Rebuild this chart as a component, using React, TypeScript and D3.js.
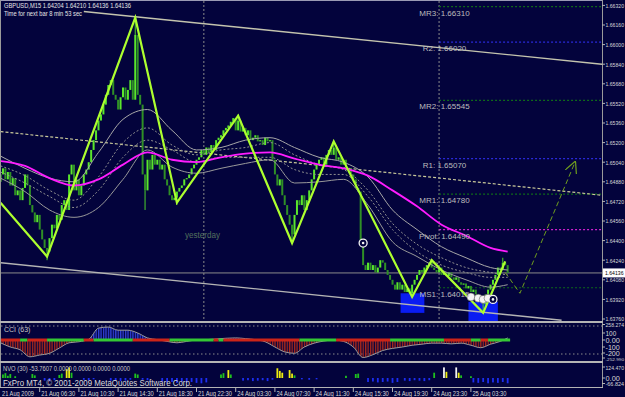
import React from 'react';
import * as d3 from 'd3';

// ---------- DATA ----------
const firstOpen = 1.6488;
const closes = [
  1.6494, 1.6499, 1.649, 1.6496, 1.6485, 1.6491, 1.6477, 1.6481, 1.6473, 1.6483, 1.6494, 1.6485,
  1.6469, 1.6463, 1.6455, 1.6461, 1.6449, 1.6441, 1.6434, 1.6431, 1.6442, 1.6453, 1.645, 1.6461,
  1.6457, 1.6469, 1.6473, 1.6465, 1.6494, 1.6502, 1.6481, 1.649, 1.6477, 1.6485, 1.6494, 1.6498,
  1.6504, 1.6514, 1.6522, 1.653, 1.6538, 1.6543, 1.6551, 1.6559, 1.6567, 1.6571, 1.6559, 1.6555,
  1.6547, 1.6557, 1.6565, 1.6555, 1.6563, 1.6571, 1.6555, 1.6608, 1.6559, 1.6551, 1.6494, 1.6481,
  1.6506, 1.6498,
  1.651, 1.6502, 1.6506, 1.6498, 1.6502, 1.649, 1.6485, 1.6477, 1.6473, 1.6475, 1.648, 1.6483,
  1.6485, 1.649, 1.6491, 1.6494, 1.6499, 1.6502, 1.6506, 1.6508, 1.6514, 1.651, 1.6516, 1.6512,
  1.6518, 1.6514, 1.6522, 1.6524, 1.6526, 1.653, 1.6532, 1.6534, 1.6537, 1.654, 1.653, 1.6538,
  1.6529, 1.6532, 1.6526, 1.653, 1.6522, 1.6524, 1.6526, 1.6521, 1.6522, 1.6518, 1.6524, 1.6521,
  1.6522, 1.6506, 1.6494, 1.6485, 1.649, 1.6477, 1.6469, 1.6461, 1.6453, 1.6445, 1.6461, 1.6473,
  1.6469, 1.6477, 1.6465, 1.6473, 1.6481, 1.649, 1.6498, 1.6502, 1.6506, 1.6508, 1.6502, 1.651,
  1.6514, 1.651, 1.6516, 1.6506, 1.6508, 1.6502, 1.6506, 1.6498, 1.6499, 1.6494, 1.649, 1.6483,
  1.648, 1.6437, 1.642, 1.6416, 1.6422, 1.6416, 1.642, 1.6414, 1.6418, 1.6424, 1.6422, 1.6416,
  1.6412, 1.6408, 1.6404, 1.64, 1.6406, 1.64, 1.6404, 1.6398, 1.6401, 1.6397, 1.6404, 1.6408,
  1.6412, 1.6416, 1.6414, 1.6418, 1.642, 1.6422, 1.6418, 1.6416, 1.6414, 1.6418, 1.6412, 1.6414,
  1.6411, 1.6414, 1.641, 1.6408, 1.641, 1.6406, 1.6404, 1.6405, 1.6401, 1.6403, 1.6398, 1.64,
  1.6396, 1.6393, 1.6392, 1.6388, 1.6396, 1.64, 1.6404, 1.6408, 1.6412, 1.6418, 1.6416, 1.6422,
  1.642, 1.64136,
];
const wickIdx = [19, 55, 59, 72, 97, 119, 136, 168, 176, 197, 205];
const wickPrice = [1.6424, 1.6622, 1.6465, 1.6469, 1.6543, 1.6438, 1.6521, 1.6394, 1.6425, 1.6381, 1.6426];

const zzIdx = [0, 19, 55, 72, 97, 119, 136, 168, 176, 197, 206];
const zzPrice = [1.6471, 1.6427, 1.6622, 1.6471, 1.6542, 1.6438, 1.6521, 1.6394, 1.6424, 1.6381, 1.6423];

const maIdx = [0, 10, 20, 30, 40, 50, 60, 70, 80, 90, 100, 110, 120, 130, 140, 150, 160, 170, 180, 190, 200, 207];
const maMagenta = [1.6505, 1.6501, 1.6491, 1.6485, 1.649, 1.6502, 1.6512, 1.6506, 1.6504, 1.6508, 1.6511, 1.6512, 1.6507, 1.6502, 1.6499, 1.6493, 1.6481, 1.6468, 1.6453, 1.6444, 1.6434, 1.6431];
const bandUpper = [1.6509, 1.6499, 1.6491, 1.6488, 1.6512, 1.6539, 1.6547, 1.653, 1.6514, 1.6516, 1.6522, 1.6524, 1.6516, 1.6508, 1.6504, 1.6492, 1.6465, 1.6449, 1.6435, 1.6426, 1.6418, 1.6416];
const bandUpperDash = [1.6501, 1.6493, 1.6481, 1.6473, 1.6492, 1.652, 1.6532, 1.6518, 1.651, 1.6514, 1.6516, 1.652, 1.651, 1.6502, 1.6498, 1.6481, 1.6454, 1.6437, 1.6426, 1.6418, 1.6414, 1.6412];
const bandLowerDash = [1.6496, 1.6487, 1.6476, 1.6467, 1.6481, 1.6508, 1.6522, 1.6514, 1.6504, 1.6508, 1.6508, 1.6508, 1.6498, 1.6494, 1.6494, 1.6476, 1.6449, 1.6431, 1.642, 1.6414, 1.641, 1.641];
const bandLower = [1.6491, 1.648, 1.6465, 1.6459, 1.6467, 1.649, 1.6514, 1.65, 1.6495, 1.6499, 1.6503, 1.6506, 1.6487, 1.6488, 1.649, 1.6469, 1.6439, 1.6427, 1.6416, 1.6408, 1.6402, 1.6404];

const pivotNames = ['MR3', 'R2', 'MR2', 'R1', 'MR1', 'Pivot', 'MS1'];
const pivotValues = [1.6631, 1.6602, 1.65545, 1.6507, 1.6478, 1.6449, 1.64015];
const pivotColors = ['#0f6a1a', '#2a2ad8', '#0f6a1a', '#2a2ad8', '#0f6a1a', '#d020d0', '#0f6a1a'];

const trendTop = [[34, 1.6627], [245.5, 1.6584]];
const trendMid = [[0, 1.6529], [245.5, 1.6477]];
const trendBottom = [[0, 1.6422], [229, 1.6375]];
const projection = [[206, 1.6414], [212, 1.6397], [234.5, 1.6504]];
const boxes = [[163.3, 173, 1.6397, 1.6381], [191, 203, 1.639, 1.6374]];
const ringMarks = [[148, 1.6438], [201, 1.6392]];
const dotMarks = [[192, 1.6394], [195, 1.6393], [197, 1.6392], [199, 1.6393]];
const daySeparators = [83, 179];
const bidPrice = 1.64136;

const priceTicks = ['1.66320', '1.66160', '1.66000', '1.65840', '1.65680', '1.65520', '1.65360', '1.65200', '1.65040', '1.64880', '1.64720', '1.64560', '1.64400', '1.64240', '1.64080', '1.63920', '1.63760'];

const timeIdx = [0, 16, 32, 48, 64, 80, 96, 112, 128, 144, 160, 176, 192];
const timeLabels = ['21 Aug 2009', '21 Aug 06:30', '21 Aug 10:30', '21 Aug 14:30', '21 Aug 18:30', '21 Aug 22:30', '24 Aug 03:30', '24 Aug 07:30', '24 Aug 11:30', '24 Aug 15:30', '24 Aug 19:30', '24 Aug 23:30', '25 Aug 03:30'];

const cciIdx = [0, 4, 8, 12, 16, 20, 24, 28, 32, 36, 40, 44, 48, 52, 56, 60, 64, 68, 72, 76, 80, 84, 88, 92, 96, 100, 104, 108, 112, 116, 120, 124, 128, 132, 136, 140, 144, 148, 152, 156, 160, 164, 168, 172, 176, 180, 184, 188, 192, 196, 200, 204, 207];
const cciVals = [-40, -100, -140, -240, -215, -190, -115, -40, -25, 10, 170, 185, 140, 140, 100, 30, 5, -20, -40, -20, 0, 5, 15, 25, 30, 20, 5, -25, -100, -170, -190, -100, -45, -15, 0, -20, -100, -250, -210, -150, -120, -100, -75, -60, -45, -45, -55, -45, -75, -110, -60, -20, 30];
const cciBand = [[0, 8, 'r'], [8, 11, 'g'], [11, 19, 'r'], [19, 34, 'g'], [34, 38, 'r'], [38, 54, 'g'], [54, 69, 'r'], [69, 87, 'g'], [87, 89, 'r'], [89, 91, 'g'], [91, 122, 'r'], [122, 137, 'g'], [137, 159, 'r'], [159, 181, 'g'], [181, 192, 'r'], [192, 196, 'g'], [196, 199, 'r'], [199, 208, 'g']];
const cciAxis = [['258.274', 327], ['100', 335.5], ['0.00', 342.5], ['-100', 349.5], ['-200', 355.5], ['-252.990', 360.5]];

const nvoIdx = [1, 2, 3, 4, 6, 13, 14, 24, 25, 27, 28, 29, 55, 56, 90, 91, 93, 94, 113, 114, 115, 118, 119, 120, 141, 145, 146, 177, 181, 182, 186, 187, 188, 192,
  18, 20, 22, 34, 36, 38, 45, 47, 49, 51, 53, 58, 60, 66, 68, 70, 72, 74, 76, 78, 80, 82, 84, 99, 101, 103, 105, 107, 109, 111, 123, 126, 129, 150, 152, 154, 156, 158, 160, 162, 165, 167, 169, 171, 173, 175, 193, 195, 197, 199, 201, 203, 205, 207];
const nvoVal = [40, 55, 25, 45, 20, 45, 30, 35, 50, 100, 120, 60, 50, 40, 40, 55, 90, 40, 110, 80, 60, 90, 50, 30, 25, 45, 50, 60, 120, 70, 120, 60, 30, 20,
  -30, -35, -25, -20, -25, -15, -30, -25, -35, -30, -20, -20, -25, -40, -50, -45, -55, -40, -50, -45, -55, -60, -50, -30, -25, -35, -30, -25, -35, -20, -15, -20, -15, -45, -40, -50, -45, -40, -55, -45, -30, -35, -25, -30, -35, -25, -50, -55, -45, -60, -50, -55, -45, -60];
const nvoCol = ['g', 'g', 'g', 'g', 'g', 'g', 'g', 'g', 'g', 'y', 'y', 'g', 'g', 'g', 'g', 'g', 'y', 'g', 'y', 'y', 'y', 'y', 'y', 'g', 'g', 'g', 'g', 'g', 'w', 'y', 'w', 'y', 'g', 'g'];
const nvoAxis = [['124.470', 369.5], ['0.00', 380.5], ['-66.824', 386]];

// ---------- STYLE ----------
const BG = '#03033c';
const FONT = 'Liberation Sans, Arial, sans-serif';
const NVO_COLORS = { g: '#1fc21f', y: '#ecec10', w: '#f2f2f2', b: '#1c2ef0' };

export default function App() {
  const x = d3.scaleLinear().domain([0, 245.5]).range([0.5, 602]);
  const y = d3.scaleLinear().domain([1.6376, 1.6632]).range([319, 5.4]);
  const yc = d3.scaleLinear().domain([-100, 100]).range([347, 333]);
  const yn = d3.scaleLinear().domain([0, 124.47]).range([378, 367]);

  const maLine = (vals) =>
    d3.line().x((_, k) => x(maIdx[k])).y((v) => y(v)).curve(d3.curveMonotoneX)(vals);
  const ptLine = (pts, curve = d3.curveLinear) =>
    d3.line().x((p) => x(p[0])).y((p) => y(p[1])).curve(curve)(pts);

  const zz = d3.line().x((_, k) => x(zzIdx[k])).y((v) => y(v))(zzPrice);

  const cciPos = d3.area().x((_, k) => x(cciIdx[k])).y0(yc(0)).y1((v) => yc(Math.max(0, v))).curve(d3.curveMonotoneX)(cciVals);
  const cciNeg = d3.area().x((_, k) => x(cciIdx[k])).y0(yc(0)).y1((v) => yc(Math.min(0, v))).curve(d3.curveMonotoneX)(cciVals);
  const cciLine = d3.line().x((_, k) => x(cciIdx[k])).y((v) => yc(v)).curve(d3.curveMonotoneX)(cciVals);

  const bars = closes.map((c, i) => {
    const o = i === 0 ? firstOpen : closes[i - 1];
    return { i, o, c };
  });

  // right-axis labels must stay inside the 625px frame
  const axisFont = (s) => Math.min(6.4, 18.5 / (s.length * 0.56));
  const axisLen = (s) => Math.min(18.5, s.length * 0.56 * axisFont(s));

  return (
    <svg width={625} height={397} style={{ position: 'absolute', left: 0, top: 0, background: BG }} fontFamily={FONT}>
      <defs>
        <clipPath id="mainClip"><rect x={1} y={1} width={601} height={320} /></clipPath>
        <clipPath id="cciClip"><rect x={1} y={323} width={601} height={38} /></clipPath>
        <pattern id="negStripe" width={2.45} height={4} patternUnits="userSpaceOnUse">
          <rect width={1.3} height={4} fill="#a8281c" />
        </pattern>
        <pattern id="posStripe" width={2.45} height={4} patternUnits="userSpaceOnUse">
          <rect width={1.3} height={4} fill="#3040d8" />
        </pattern>
        <marker id="arr" viewBox="0 0 10 10" refX={9} refY={5} markerWidth={12} markerHeight={12} orient="auto" markerUnits="userSpaceOnUse">
          <path d="M0,0 L10,5 L0,10" fill="none" stroke="#6f9e1e" strokeWidth={1} />
        </marker>
      </defs>
      <rect width={625} height={397} fill={BG} />

      {/* ---------- MAIN PANEL ---------- */}
      <g clipPath="url(#mainClip)">
        {boxes.map((b, k) => (
          <rect key={k} x={x(b[0])} y={y(b[2])} width={x(b[1]) - x(b[0])} height={y(b[3]) - y(b[2])} fill="#0a1cf2" />
        ))}
        {daySeparators.map((d, k) => (
          <line key={k} x1={x(d)} x2={x(d)} y1={1} y2={321} stroke="#8a8a8a" strokeDasharray="2,2" />
        ))}
        {pivotValues.map((v, k) => (
          <line key={k} x1={x(179)} x2={602} y1={y(v)} y2={y(v)} stroke={pivotColors[k]} strokeDasharray="2,2" strokeWidth={1.2} />
        ))}
        <line x1={0} x2={602} y1={y(bidPrice)} y2={y(bidPrice)} stroke="#8c8c8c" strokeWidth={1} />
        <path d={ptLine(trendTop)} stroke="#c4c4ae" strokeWidth={1.4} fill="none" />
        <path d={ptLine(trendMid)} stroke="#c8c89a" strokeWidth={1.2} strokeDasharray="3,2" fill="none" />
        <path d={ptLine(trendBottom)} stroke="#b4b4b4" strokeWidth={1.4} fill="none" />

        {/* candles */}
        {bars.map((b) => {
          const top = y(Math.max(b.o, b.c));
          const bot = y(Math.min(b.o, b.c));
          return (
            <rect key={b.i} x={x(b.i) - 1} y={top} width={2} height={Math.max(1, bot - top)}
              fill={b.c >= b.o ? '#5ae62c' : '#2f8f26'} />
          );
        })}
        {wickIdx.map((i, k) => {
          const b = bars[i];
          const p = wickPrice[k];
          const end = p > Math.max(b.o, b.c) ? Math.max(b.o, b.c) : Math.min(b.o, b.c);
          return <line key={k} x1={x(i)} x2={x(i)} y1={y(p)} y2={y(end)} stroke="#4cd22a" strokeWidth={1} />;
        })}

        {/* moving averages */}
        <path d={maLine(bandUpper)} stroke="#a8a8a8" strokeWidth={1} fill="none" />
        <path d={maLine(bandUpperDash)} stroke="#909090" strokeWidth={1} strokeDasharray="2,2" fill="none" />
        <path d={maLine(bandLowerDash)} stroke="#909090" strokeWidth={1} strokeDasharray="2,2" fill="none" />
        <path d={maLine(bandLower)} stroke="#9a9a9a" strokeWidth={1} fill="none" />
        <path d={maLine(maMagenta)} stroke="#ff1cff" strokeWidth={1.8} fill="none" />

        {/* zigzag */}
        <path d={zz} stroke="#adff2f" strokeWidth={2.2} fill="none" strokeLinejoin="miter" />

        {/* projection */}
        <path d={ptLine(projection)} stroke="#6f9e1e" strokeWidth={1} strokeDasharray="5,3" fill="none" markerEnd="url(#arr)" />

        {dotMarks.map((m, k) => (
          <circle key={k} cx={x(m[0])} cy={y(m[1])} r={4} fill="#f4f4f4" stroke="#444" strokeWidth={0.5} />
        ))}
        {ringMarks.map((m, k) => (
          <g key={k}>
            <circle cx={x(m[0])} cy={y(m[1])} r={4} fill={BG} stroke="#f4f4f4" strokeWidth={1.3} />
            <circle cx={x(m[0])} cy={y(m[1])} r={1.3} fill="#f4f4f4" />
          </g>
        ))}

        {pivotNames.map((n, k) => (
          <text key={k} x={444.5} y={y(pivotValues[k]) + 9} fontSize={8} fill="#bdbdbd" textAnchor="middle">
            {`${n}: ${pivotValues[k].toFixed(5)}`}
          </text>
        ))}
        <text x={185} y={238} fontSize={8.5} fill="#54705c" textLength={35} lengthAdjust="spacingAndGlyphs">yesterday</text>
      </g>
      <text x={4} y={8} fontSize={7} fill="#e6e6e6" textLength={127} lengthAdjust="spacingAndGlyphs">GBPUSD,M15  1.64204 1.64210 1.64136 1.64136</text>
      <text x={4} y={16} fontSize={7} fill="#e6e6e6" textLength={78} lengthAdjust="spacingAndGlyphs">Time for next bar 8 min 53 sec</text>

      {/* ---------- CCI PANEL ---------- */}
      <g clipPath="url(#cciClip)">
        <line x1={1} x2={602} y1={yc(200)} y2={yc(200)} stroke="#8a8a8a" strokeDasharray="1.5,2.5" />
        <line x1={1} x2={602} y1={yc(-200)} y2={yc(-200)} stroke="#8a8a8a" strokeDasharray="1.5,2.5" />
        <path d={cciPos} fill="url(#posStripe)" />
        <path d={cciNeg} fill="url(#negStripe)" />
        <path d={cciLine} stroke="#9a9a9a" strokeWidth={1} fill="none" />
        {cciBand.map((s, k) => (
          <rect key={k} x={x(s[0])} y={yc(0) - 1.5} width={x(s[1]) - x(s[0])} height={3} fill={s[2] === 'r' ? '#cc2418' : '#34c834'} />
        ))}
      </g>
      <text x={4} y={332} fontSize={7} fill="#c8c8c8">CCI (63)</text>

      {/* ---------- NVO PANEL ---------- */}
      {nvoIdx.map((i, k) => {
        const v = nvoVal[k];
        const col = v < 0 ? NVO_COLORS.b : NVO_COLORS[nvoCol[k]];
        const y0 = yn(0), y1 = yn(v);
        return <rect key={k} x={x(i) - 0.9} y={Math.min(y0, y1)} width={1.8} height={Math.abs(y1 - y0)} fill={col} />;
      })}
      <text x={3} y={371} fontSize={7} fill="#c8c8c8" textLength={127} lengthAdjust="spacingAndGlyphs">NVO (30) -53.7607 0.0000 0.0000 0.0000 0.0000</text>
      <text x={3} y={386} fontSize={8.2} fill="#dcdcdc" textLength={189} lengthAdjust="spacingAndGlyphs">FxPro MT4, © 2001-2009 MetaQuotes Software Corp.</text>

      {/* ---------- FRAMES ---------- */}
      <line x1={0} x2={603} y1={0.5} y2={0.5} stroke="#9a9ab4" />
      <line x1={0.5} x2={0.5} y1={0} y2={387} stroke="#9a9a9a" />
      <line x1={602.5} x2={602.5} y1={0} y2={388} stroke="#9a9a9a" />
      <rect x={0} y={321} width={603} height={2} fill="#b4b4b4" />
      <rect x={0} y={361} width={603} height={2} fill="#b4b4b4" />
      <line x1={0} x2={603} y1={387.5} y2={387.5} stroke="#b4b4b4" />

      {/* price axis */}
      {priceTicks.map((t, k) => (
        <g key={k}>
          <line x1={602} x2={605} y1={y(+t)} y2={y(+t)} stroke="#b4b4b4" />
          <text x={605.5} y={y(+t) + 2.3} fontSize={axisFont(t)} fill="#d8d8d8" textLength={axisLen(t)} lengthAdjust="spacingAndGlyphs">{t}</text>
        </g>
      ))}
      <rect x={603} y={y(bidPrice) - 4.5} width={22} height={9} fill="#ffffff" />
      <text x={605} y={y(bidPrice) + 2.3} fontSize={axisFont('1.64136')} fill="#000000" textLength={axisLen('1.64136')} lengthAdjust="spacingAndGlyphs">{bidPrice.toFixed(5)}</text>
      {cciAxis.map((a, k) => (
        <g key={k}>
          <line x1={602} x2={605} y1={+a[1] - 2.5} y2={+a[1] - 2.5} stroke="#b4b4b4" />
          <text x={605.5} y={a[1]} fontSize={axisFont(a[0])} fill="#d8d8d8" textLength={axisLen(a[0])} lengthAdjust="spacingAndGlyphs">{a[0]}</text>
        </g>
      ))}
      {nvoAxis.map((a, k) => (
        <g key={k}>
          <line x1={602} x2={605} y1={+a[1] - 2.5} y2={+a[1] - 2.5} stroke="#b4b4b4" />
          <text x={605.5} y={a[1]} fontSize={axisFont(a[0])} fill="#d8d8d8" textLength={axisLen(a[0])} lengthAdjust="spacingAndGlyphs">{a[0]}</text>
        </g>
      ))}

      {/* time axis */}
      {timeIdx.map((i, k) => (
        <g key={k}>
          {k > 0 && <line x1={x(i)} x2={x(i)} y1={388} y2={392} stroke="#b4b4b4" />}
          <text x={k === 0 ? 2 : x(i) + 1.5} y={395.5} fontSize={6.6} fill="#d8d8d8"
            textLength={k === 0 ? 32 : 34} lengthAdjust="spacingAndGlyphs">{timeLabels[k]}</text>
        </g>
      ))}
    </svg>
  );
}
